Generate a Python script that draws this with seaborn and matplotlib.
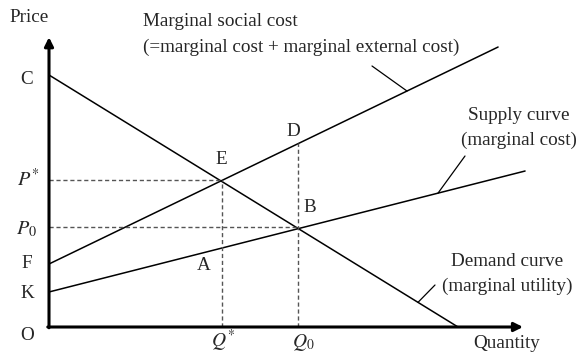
import numpy as np
import matplotlib
matplotlib.use("Agg")
import matplotlib.pyplot as plt
import seaborn as sns

# ---- data ----
demand_q = [0.0, 10.0]
demand_p = [10.0, 0.0]
supply_q = [0.0, 11.64]
supply_p = [1.39, 6.19]
msc_q = [0.0, 10.98]
msc_p = [2.5, 11.11]
q_star, p_star = 4.23, 5.83
q_zero, p_zero = 6.09, 3.95
d_price = 7.3
x_axis_end, y_axis_end = 11.59, 11.5

W, H = 581, 353
sns.set_theme(style="white")
plt.rcParams["font.family"] = ["Liberation Serif", "DejaVu Serif"]
plt.rcParams["mathtext.fontset"] = "stix"

fig = plt.figure(figsize=(W / 100, H / 100), dpi=100)
ax = fig.add_axes([0, 0, 1, 1])
ax.axis("off")
# pixel mapping: origin at (49, 327); 40.9 px per q unit, 25.2 px per p unit
ox, oy, sx, sy = 49, 327, 40.9, 25.2
ax.set_xlim(-ox / sx, (W - ox) / sx)
ax.set_ylim(-(H - oy) / sy, oy / sy)

lw = 1.1
sns.lineplot(x=demand_q, y=demand_p, color="black", lw=lw, ax=ax)
sns.lineplot(x=supply_q, y=supply_p, color="black", lw=lw, ax=ax)
sns.lineplot(x=msc_q, y=msc_p, color="black", lw=lw, ax=ax)

dash = dict(color="#555555", lw=1.0, ls=(0, (3, 2)))
ax.plot([0, q_star], [p_star, p_star], **dash)
ax.plot([q_star, q_star], [0, p_star], **dash)
ax.plot([0, q_zero], [p_zero, p_zero], **dash)
ax.plot([q_zero, q_zero], [0, d_price], **dash)

# axes with arrows
arr = dict(arrowstyle="-|>", lw=2.2, color="black", mutation_scale=13,
           shrinkA=0, shrinkB=0)
ax.annotate("", xy=(x_axis_end, 0), xytext=(-0.03, 0), arrowprops=arr)
ax.annotate("", xy=(0, y_axis_end), xytext=(0, -0.03), arrowprops=arr)

fs = 13.8
ms = 14.5


def t(x, y, s, ha="center", va="center", size=fs):
    fig.text(x / W, 1 - y / H, s, ha=ha, va=va, fontsize=size)


t(29, 17, "Price")
t(27, 79, "C")
t(28, 180, r"$P^{*}$", size=ms)
t(27, 229, r"$P_{0}$", size=ms)
t(27, 263, "F")
t(27, 293, "K")
t(27, 336, "O")
t(223, 347, r"$Q^{*}$", va="baseline", size=14)
t(303, 347, r"$Q_{0}$", va="baseline", size=14)
t(507, 344, "Quantity")
t(221, 160, "E")
t(310, 208, "B")
t(204, 266, "A")
t(293, 132, "D")

t(143, 22, "Marginal social cost", ha="left")
t(143, 47, "(=marginal cost + marginal external cost)", ha="left")
t(519, 115, "Supply curve")
t(519, 140, "(marginal cost)")
t(507, 262, "Demand curve")
t(507, 286, "(marginal utility)")

lead = dict(arrowstyle="-", lw=0.9, color="black", shrinkA=0, shrinkB=0)


def leader(qs, ps, q_on, px0, py0):
    ax.annotate("", xy=(q_on, np.interp(q_on, qs, ps)), xycoords="data",
                xytext=(px0, H - py0), textcoords="figure pixels",
                arrowprops=lead)


leader(msc_q, msc_p, (407 - ox) / sx, 372, 66)
leader(supply_q, supply_p, (438 - ox) / sx, 465, 156)
leader(demand_q, demand_p, (418 - ox) / sx, 435, 285)

fig.savefig("out.png", dpi=100)
